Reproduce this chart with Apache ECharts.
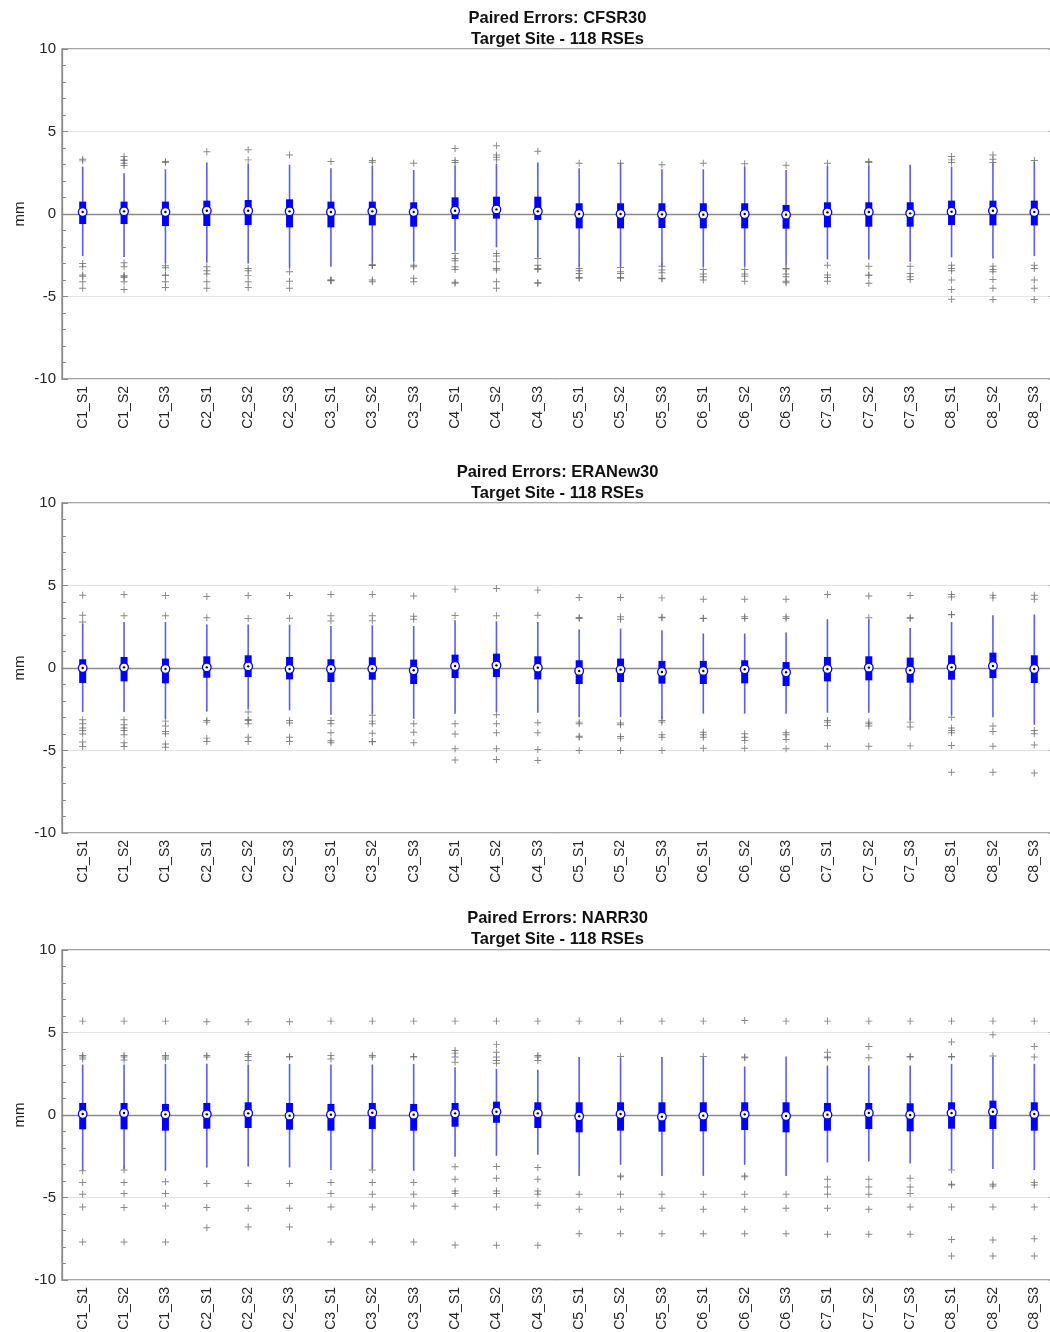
<!DOCTYPE html>
<html>
<head>
<meta charset="utf-8">
<script src="https://cdn.jsdelivr.net/npm/echarts@6/dist/echarts.min.js"></script>
<style>
  html, body { margin: 0; padding: 0; background: #fff; }
  #chart { width: 1050px; height: 1332px; }
</style>
</head>
<body>
<div id="chart"></div>
<script>
// Category labels (cluster_season)
const categories = ['C1_S1','C1_S2','C1_S3','C2_S1','C2_S2','C2_S3','C3_S1','C3_S2','C3_S3',
  'C4_S1','C4_S2','C4_S3','C5_S1','C5_S2','C5_S3','C6_S1','C6_S2','C6_S3',
  'C7_S1','C7_S2','C7_S3','C8_S1','C8_S2','C8_S3'];

const yTicks = [-10, -5, 0, 5, 10];

// ---- CFSR30 ----
const cfsrHigh = [2.87, 2.47, 2.71, 3.12, 3.04, 2.98, 2.77, 2.91, 2.67, 2.94, 3.04, 3.12, 2.77, 3.08, 2.71, 2.71, 2.87, 2.67, 2.91, 2.94, 2.98, 2.87, 3.08, 3.18];
const cfsrQ3   = [0.75, 0.75, 0.75, 0.81, 0.85, 0.89, 0.75, 0.75, 0.71, 1.01, 1.05, 1.05, 0.65, 0.65, 0.65, 0.65, 0.65, 0.55, 0.71, 0.71, 0.71, 0.81, 0.81, 0.81];
const cfsrMed  = [0.12, 0.16, 0.12, 0.20, 0.20, 0.16, 0.12, 0.16, 0.12, 0.20, 0.28, 0.16, 0.00, 0.00, -0.02, -0.04, 0.00, -0.04, 0.10, 0.12, 0.04, 0.14, 0.20, 0.12];
const cfsrQ1   = [-0.61, -0.61, -0.73, -0.73, -0.67, -0.81, -0.81, -0.69, -0.77, -0.30, -0.28, -0.36, -0.87, -0.87, -0.85, -0.87, -0.87, -0.89, -0.81, -0.77, -0.77, -0.67, -0.69, -0.69];
const cfsrLow  = [-2.55, -2.60, -3.00, -2.96, -3.00, -3.30, -3.20, -2.90, -2.90, -2.23, -2.02, -2.63, -3.20, -3.20, -3.20, -3.20, -3.20, -3.10, -2.75, -2.75, -2.90, -2.63, -2.70, -2.55];
const cfsrOut = [
  [3.32, 3.22, -3.0, -3.2, -3.77, -3.7, -4.1, -4.5],
  [3.48, 3.28, 3.08, 2.94, 3.24, -2.96, -3.2, -3.77, -3.85, -3.72, -4.1, -4.57],
  [3.18, 3.12, -3.14, -3.26, -3.7, -3.72, -4.1, -4.45],
  [3.77, -3.2, -3.44, -3.64, -4.1, -4.5],
  [3.89, 3.28, -3.3, -3.44, -3.72, -4.1, -4.45],
  [3.58, -3.5, -4.07, -4.5],
  [3.18, -4.0, -4.05, -4.02],
  [3.14, 3.24, -3.1, -3.12, -3.08, -4.0, -4.1],
  [3.08, -3.1, -3.2, -3.9, -4.1],
  [3.97, 3.24, 3.12, -2.39, -2.7, -2.83, -3.2, -3.36, -4.2, -4.13],
  [4.13, 3.58, 3.44, 3.28, -2.39, -2.55, -2.9, -3.3, -3.4, -4.1, -4.5],
  [3.8, -2.7, -3.1, -3.3, -3.36, -4.17, -4.2],
  [3.08, -3.3, -3.44, -3.6, -3.85, -3.9],
  [3.08, -3.24, -3.5, -3.6, -3.85, -3.9],
  [2.98, -3.16, -3.4, -3.56, -3.9, -3.92],
  [3.08, -3.36, -3.64, -3.8, -4.0],
  [3.04, -3.36, -3.64, -3.77, -4.07],
  [2.96, -3.3, -3.34, -3.64, -3.8, -4.07, -4.17],
  [3.08, -3.1, -3.7, -3.85, -4.07],
  [3.18, 3.12, -3.16, -3.7, -3.72, -4.2],
  [-3.16, -3.6, -3.8, -3.97],
  [3.48, 3.28, 3.12, -3.1, -3.3, -3.44, -4.0, -4.57, -5.16],
  [3.58, 3.32, 3.12, -3.16, -3.36, -3.5, -3.97, -4.5, -5.18],
  [3.24, -3.1, -3.3, -4.0, -4.5, -5.18]
];

// ---- ERANew30 ----
const eraHigh = [2.69, 2.79, 2.79, 2.63, 2.63, 2.63, 2.55, 2.59, 2.55, 2.89, 2.83, 2.79, 2.33, 2.39, 2.29, 2.09, 2.09, 2.15, 2.96, 2.96, 2.43, 2.79, 3.20, 3.24];
const eraQ3   = [0.53, 0.67, 0.57, 0.71, 0.77, 0.67, 0.53, 0.65, 0.51, 0.81, 0.87, 0.71, 0.47, 0.57, 0.43, 0.43, 0.47, 0.36, 0.67, 0.71, 0.63, 0.77, 0.93, 0.77];
const eraMed  = [0.00, 0.04, -0.06, 0.04, 0.10, -0.06, -0.06, -0.04, -0.14, 0.12, 0.16, 0.02, -0.18, -0.10, -0.24, -0.18, -0.08, -0.26, -0.06, 0.02, -0.14, 0.04, 0.12, -0.06];
const eraQ1   = [-0.91, -0.81, -0.93, -0.59, -0.55, -0.69, -0.85, -0.71, -0.97, -0.61, -0.55, -0.69, -0.97, -0.85, -0.95, -0.97, -0.93, -1.09, -0.81, -0.75, -0.89, -0.71, -0.61, -0.91];
const eraLow  = [-2.67, -2.67, -3.08, -2.63, -2.47, -2.57, -2.83, -2.77, -3.08, -2.77, -2.67, -2.71, -2.98, -2.98, -3.08, -2.77, -2.77, -2.77, -2.71, -2.71, -3.18, -2.87, -2.98, -3.44];
const eraOut = [
  [4.41, 3.2, 2.79, -3.14, -3.38, -3.64, -3.79, -4.0, -4.49, -4.76],
  [4.45, 3.16, -3.14, -3.44, -3.64, -3.79, -4.05, -4.53, -4.76],
  [4.39, 3.16, -3.22, -3.52, -3.85, -3.99, -4.6, -4.8],
  [4.33, 3.04, -3.18, -3.28, -4.25, -4.45],
  [4.39, 3.0, -2.67, -3.18, -3.12, -3.38, -4.19, -4.45],
  [4.39, 3.02, -3.18, -3.34, -4.19, -4.45],
  [4.45, 3.16, 2.85, -3.18, -3.38, -3.93, -4.41, -4.53],
  [4.45, 3.16, 2.87, -2.87, -3.22, -3.38, -3.95, -4.45, -4.47],
  [4.37, 3.14, 2.96, -3.38, -3.89, -4.53],
  [4.78, 3.18, -3.38, -4.0, -4.9, -5.57],
  [4.82, 3.16, -2.83, -3.38, -3.93, -4.9, -5.55],
  [4.72, 3.2, -3.32, -3.93, -4.94, -5.61],
  [4.27, 3.0, 3.06, -3.38, -3.28, -4.19, -4.13, -5.0],
  [4.27, 3.1, 2.96, -3.44, -3.34, -4.15, -4.25, -5.0],
  [4.25, 3.04, 3.08, -3.28, -3.18, -4.19, -4.05, -5.0],
  [4.17, 3.0, 3.02, -3.89, -4.05, -4.19, -4.86],
  [4.17, 3.1, 3.0, -3.99, -4.19, -4.39, -4.86],
  [4.17, 3.1, 3.0, -3.93, -4.05, -4.33, -4.9],
  [4.45, -3.18, -3.28, -3.48, -4.74],
  [4.37, 3.04, -3.28, -3.38, -3.52, -4.74],
  [4.39, 3.04, 3.02, -3.28, -3.58, -4.72],
  [4.45, 4.31, 3.24, 3.22, -2.98, -3.64, -3.79, -3.93, -4.7, -6.32],
  [4.41, 4.25, -3.52, -3.85, -4.74, -6.32],
  [4.41, 4.17, -3.79, -3.99, -4.66, -6.36]
];

// ---- NARR30 ----
const narrHigh = [3.06, 3.06, 3.10, 3.10, 3.06, 3.10, 3.06, 3.06, 3.10, 2.90, 2.80, 2.74, 3.51, 3.47, 3.51, 3.51, 2.94, 3.55, 3.00, 3.00, 3.00, 3.10, 3.51, 3.10];
const narrQ3   = [0.73, 0.73, 0.67, 0.73, 0.77, 0.73, 0.67, 0.73, 0.67, 0.73, 0.81, 0.77, 0.77, 0.77, 0.77, 0.77, 0.77, 0.77, 0.73, 0.73, 0.71, 0.77, 0.87, 0.77];
const narrMed  = [0.06, 0.12, 0.04, 0.04, 0.10, -0.04, 0.02, 0.14, 0.02, 0.10, 0.20, 0.10, -0.08, 0.06, -0.10, -0.04, 0.04, -0.06, 0.02, 0.12, 0.00, 0.12, 0.20, 0.06];
const narrQ1   = [-0.87, -0.87, -0.95, -0.83, -0.79, -0.89, -0.95, -0.85, -0.95, -0.71, -0.47, -0.79, -1.05, -0.95, -1.01, -0.99, -0.91, -1.05, -0.95, -0.85, -0.99, -0.83, -0.85, -0.95];
const narrLow  = [-3.34, -3.28, -3.38, -3.18, -3.12, -3.18, -3.34, -3.28, -3.38, -2.53, -2.47, -2.41, -3.69, -3.02, -3.69, -3.69, -3.02, -3.69, -2.88, -2.82, -2.94, -3.28, -3.28, -3.34];
const narrOut = [
  [5.69, 3.61, 3.51, 3.4, -3.38, -4.09, -4.8, -5.57, -7.7],
  [5.69, 3.61, 3.51, 3.34, -3.34, -4.09, -4.76, -5.61, -7.7],
  [5.69, 3.61, 3.51, 3.4, -4.05, -4.76, -5.51, -7.7],
  [5.65, 3.61, 3.51, -4.15, -5.61, -6.83],
  [5.65, 3.67, 3.55, 3.3, -4.15, -5.65, -6.79],
  [5.65, 3.55, 3.51, -4.15, -5.65, -6.79],
  [5.69, 3.61, 3.4, -4.09, -4.76, -5.57, -7.7],
  [5.69, 3.61, 3.51, -3.34, -4.09, -4.8, -5.57, -7.7],
  [5.69, 3.51, 3.55, -4.09, -4.8, -5.51, -7.7],
  [5.69, 3.91, 3.75, 3.51, 3.2, -3.14, -3.89, -4.6, -4.76, -5.53, -7.88],
  [5.69, 4.28, 3.81, 3.51, 3.3, 3.14, -3.12, -3.83, -4.6, -4.76, -5.57, -7.9],
  [5.69, 3.61, 3.51, 3.3, -3.18, -3.89, -4.6, -4.8, -5.47, -7.9],
  [5.69, -4.8, -5.71, -7.19],
  [5.69, 3.55, -3.69, -3.75, -4.8, -5.71, -7.19],
  [5.69, -4.8, -5.65, -7.19],
  [5.69, 3.55, -4.8, -5.71, -7.19],
  [5.73, 3.51, 3.47, -3.69, -3.75, -4.8, -5.71, -7.19],
  [5.69, -4.8, -5.65, -7.19],
  [5.69, 3.81, 3.51, 3.47, -3.89, -4.36, -4.8, -5.65, -7.23],
  [5.69, 4.15, 3.47, -3.89, -4.36, -4.8, -5.71, -7.23],
  [5.69, 3.55, 3.51, -3.83, -4.36, -4.76, -5.57, -7.23],
  [5.69, 4.42, 3.55, 3.51, -3.34, -4.24, -4.2, -5.57, -7.54, -8.55],
  [5.69, 4.86, 3.57, -4.19, -4.3, -5.57, -7.58, -8.55],
  [5.69, 4.15, 3.51, -4.09, -4.24, -5.57, -7.5, -8.55]
];

const panels = [
  { title: 'Paired Errors: CFSR30\nTarget Site - 118 RSEs',    high: cfsrHigh, q3: cfsrQ3, med: cfsrMed, q1: cfsrQ1, low: cfsrLow, out: cfsrOut },
  { title: 'Paired Errors: ERANew30\nTarget Site - 118 RSEs',  high: eraHigh,  q3: eraQ3,  med: eraMed,  q1: eraQ1,  low: eraLow,  out: eraOut },
  { title: 'Paired Errors: NARR30\nTarget Site - 118 RSEs',    high: narrHigh, q3: narrQ3, med: narrMed, q1: narrQ1, low: narrLow, out: narrOut }
];
const yAxisTitle = 'mm';

// layout of the three stacked axes
const gridTops = [49, 503, 950];
const gridHeight = 330;
const gridLeft = 62;
const gridWidth = 993;
const titleTops = [8, 462, 908];
const yTitleX = 20;

const FONT = '"Liberation Sans", Arial, sans-serif';
const AXIS_GRAY = '#8a8a8a';
const TEXT = '#262626';
const PLUS = 'path://M4.3,0H5.7V4.3H10V5.7H5.7V10H4.3V5.7H0V4.3H4.3Z';

const option = {
  animation: false,
  backgroundColor: '#fff',
  title: [], grid: [], xAxis: [], yAxis: [], series: [], graphic: []
};

function boxItem(params, api) {
  const i = api.value(0);
  const pHi = api.coord([i, api.value(1)]);
  const pQ3 = api.coord([i, api.value(2)]);
  const pMed = api.coord([i, api.value(3)]);
  const pQ1 = api.coord([i, api.value(4)]);
  const pLo = api.coord([i, api.value(5)]);
  const cx = pMed[0];
  return {
    type: 'group',
    children: [
      { type: 'line', shape: { x1: cx, y1: pHi[1], x2: cx, y2: pLo[1] },
        style: { stroke: '#5c5cf2', lineWidth: 1.6 } },
      { type: 'rect', shape: { x: cx - 3.5, y: pQ3[1], width: 7, height: pQ1[1] - pQ3[1] },
        style: { fill: '#0000ff' } },
      { type: 'circle', shape: { cx: cx, cy: pMed[1], r: 4.3 },
        style: { fill: '#ffffff', stroke: '#0000ff', lineWidth: 1.3 } },
      { type: 'circle', shape: { cx: cx, cy: pMed[1], r: 1.2 },
        style: { fill: '#000000' } }
    ]
  };
}

panels.forEach(function (p, k) {
  option.title.push({
    text: p.title,
    left: gridLeft + gridWidth / 2 - 1,
    top: titleTops[k],
    padding: 0,
    textAlign: 'center',
    textStyle: { fontFamily: FONT, fontWeight: 'bold', fontSize: 16.5, lineHeight: 21, color: '#111' }
  });
  // vertical axis title
  option.graphic.push({
    type: 'text',
    x: yTitleX, y: gridTops[k] + gridHeight / 2,
    rotation: Math.PI / 2,
    style: { text: yAxisTitle, fontSize: 15, fill: TEXT, fontFamily: FONT,
             align: 'center', verticalAlign: 'middle' }
  });
  option.grid.push({
    left: gridLeft, top: gridTops[k], width: gridWidth, height: gridHeight,
    show: true, borderColor: AXIS_GRAY, borderWidth: 1.3, backgroundColor: '#fff',
    containLabel: false, outerBoundsMode: 'none'
  });
  option.xAxis.push({
    type: 'category', gridIndex: k, data: categories, boundaryGap: true,
    axisLine: { show: true, lineStyle: { color: AXIS_GRAY, width: 1.3 } },
    axisTick: { show: false },
    axisLabel: { rotate: 90, fontSize: 14, margin: 7, color: TEXT, fontFamily: FONT, interval: 0 },
    splitLine: { show: false }
  });
  const yBase = {
    type: 'value', gridIndex: k, min: yTicks[0], max: yTicks[yTicks.length - 1], interval: 5,
    axisLine: { show: true, lineStyle: { color: AXIS_GRAY, width: 1.3 } },
    axisTick: { show: true, inside: true, length: 6, lineStyle: { color: AXIS_GRAY } },
    minorTick: { show: true, splitNumber: 5, length: 4, lineStyle: { color: AXIS_GRAY } }
  };
  option.yAxis.push(Object.assign({}, yBase, {
    position: 'left',
    axisLabel: { fontSize: 15, color: TEXT, fontFamily: FONT, margin: 6 },
    splitLine: { show: true, lineStyle: { color: '#e3e3e3', width: 1 } }
  }));
  option.yAxis.push(Object.assign({}, yBase, {
    position: 'right',
    axisLabel: { show: false },
    splitLine: { show: false }
  }));

  const boxRows = categories.map(function (c, i) {
    return [i, p.high[i], p.q3[i], p.med[i], p.q1[i], p.low[i]];
  });
  option.series.push({
    type: 'custom', name: 'box' + k, xAxisIndex: k, yAxisIndex: 2 * k,
    dimensions: ['cat', 'high', 'q3', 'med', 'q1', 'low'],
    encode: { x: 0, y: [1, 2, 3, 4, 5] },
    renderItem: boxItem, data: boxRows, z: 3
  });

  const outPts = [];
  p.out.forEach(function (vals, i) {
    vals.forEach(function (v) { outPts.push([i, v]); });
  });
  option.series.push({
    type: 'scatter', name: 'out' + k, xAxisIndex: k, yAxisIndex: 2 * k,
    data: outPts, symbol: PLUS, symbolSize: 7,
    itemStyle: { color: '#6b6b6b' }, z: 4
  });
});

const chart = echarts.init(document.getElementById('chart'), null, { renderer: 'canvas' });
chart.setOption(option);
</script>
</body>
</html>
